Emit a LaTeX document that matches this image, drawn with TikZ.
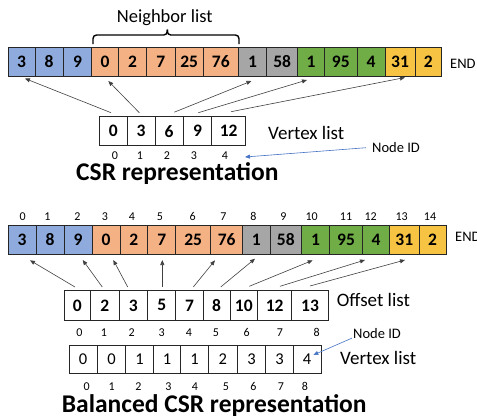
\documentclass[tikz,border=0pt]{standalone}
\usepackage{fontspec}
\setmainfont{Carlito}
\usetikzlibrary{arrows.meta}
\definecolor{cblue}{HTML}{8FAADC}
\definecolor{corange}{HTML}{F4B183}
\definecolor{cgray}{HTML}{A6A6A6}
\definecolor{cgreen}{HTML}{70AD47}
\definecolor{cyellow}{HTML}{F6C343}
\definecolor{linkblue}{HTML}{4472C4}
\begin{document}
\begin{tikzpicture}[x=1pt,y=-1pt,
 cell/.style={draw=black!85, line width=0.8pt, inner sep=0pt, outer sep=0pt, anchor=west, font=\fontsize{17.5}{19}\selectfont\bfseries},
 vcell/.style={cell, font=\fontsize{16.5}{18}\selectfont},
 toprow/.style={cell, minimum height=28.3pt},
 botrow/.style={cell, minimum height=29.3pt},
 csrrow/.style={cell, minimum height=29pt},
 offrow/.style={cell, minimum height=29.3pt},
 vtxrow/.style={vcell, minimum height=28.3pt},
 idx/.style={anchor=base, inner sep=0pt, text depth=0pt, font=\fontsize{12}{13}\selectfont},
 lbl/.style={anchor=base west, inner sep=0pt, font=\fontsize{19}{22}\selectfont},
 nidl/.style={anchor=base west, inner sep=0pt, font=\fontsize{14.5}{17}\selectfont},
 ttl/.style={anchor=base west, inner sep=0pt, text height=16.5pt, text depth=4.5pt, font=\fontsize{25.5}{28}\selectfont\bfseries},
 ptr/.style={draw=black!75, line width=0.6pt, -{Triangle[length=5pt,width=4pt]}},
 idptr/.style={draw=linkblue, line width=0.6pt, -{Triangle[length=5pt,width=4pt]}},
 bracel/.style={draw=black, line width=1.4pt, rounded corners=3.5pt},
]
\useasboundingbox (0,0) rectangle (477,418);

% ---------- CSR: neighbor list ----------
\node[lbl, font=\fontsize{18.5}{21}\selectfont] (nbl) at (116.7,22.7) {Neighbor list};
\draw[bracel] (93,44) -- (93,35) -- (167.3,35) -- (167.3,29.5);
\draw[bracel] (239,44) -- (239,35) -- (167.3,35) -- (167.3,29.5);

\node[toprow, fill=cblue,   minimum width=26.7pt] (a0)  at (8.3,61.85)   {3};
\node[toprow, fill=cblue,   minimum width=28.3pt] (a1)  at (35,61.85)    {8};
\node[toprow, fill=cblue,   minimum width=28.4pt] (a2)  at (63.3,61.85)  {9};
\node[toprow, fill=corange, minimum width=26.6pt] (a3)  at (91.7,61.85)  {0};
\node[toprow, fill=corange, minimum width=28.4pt] (a4)  at (118.3,61.85) {2};
\node[toprow, fill=corange, minimum width=28.3pt] (a5)  at (146.7,61.85) {7};
\node[toprow, fill=corange, minimum width=28.3pt] (a6)  at (175,61.85)   {25};
\node[toprow, fill=corange, minimum width=35pt]   (a7)  at (203.3,61.85) {76};
\node[toprow, fill=cgray,   minimum width=28.4pt] (a8)  at (238.3,61.85) {1};
\node[toprow, fill=cgray,   minimum width=31pt]   (a9)  at (266.7,61.85) {58};
\node[toprow, fill=cgreen,  minimum width=26.6pt] (a10) at (297.7,61.85) {1};
\node[toprow, fill=cgreen,  minimum width=33pt]   (a11) at (324.3,61.85) {95};
\node[toprow, fill=cgreen,  minimum width=27.7pt] (a12) at (357.3,61.85) {4};
\node[toprow, fill=cyellow, minimum width=30pt]   (a13) at (385,61.85)   {31};
\node[toprow, fill=cyellow, minimum width=26.7pt] (a14) at (415,61.85)   {2};
\node[nidl] (end1) at (450,68.3) {END};

% ---------- CSR: vertex list ----------
\node[csrrow, minimum width=28pt]   (v0) at (99.3,131.2)  {0};
\node[csrrow, minimum width=27.7pt] (v1) at (127.3,131.2) {3};
\node[csrrow, minimum width=28.3pt] (v2) at (155,131.2)   {6};
\node[csrrow, minimum width=28.4pt] (v3) at (183.3,131.2) {9};
\node[csrrow, minimum width=34pt]   (v4) at (211.7,131.2) {12};
\node[lbl] (vl1) at (268,139.3) {Vertex list};
\foreach \x [count=\i from 0] in {115,140,167,194,225}
  \node[idx] (q\i) at (\x,159.8) {\i};
\node[nidl] (nid1) at (372,152.7) {Node ID};
\coordinate (tip1) at (245,157);
\draw[idptr] ([xshift=-6pt]nid1.west) -- (tip1);

\draw[ptr] ([xshift=-2.3pt,yshift=4pt]v0.north) -- ([xshift=3.3pt,yshift=-2.5pt]a0.south);
\draw[ptr] ([xshift=-1.85pt,yshift=4pt]v1.north) -- ([xshift=3.3pt,yshift=-5pt]a3.south);
\draw[ptr] ([xshift=5.15pt,yshift=4.5pt]v2.north) -- ([xshift=-1pt,yshift=-5pt]a8.south);
\draw[ptr] ([xshift=0.8pt,yshift=4pt]v3.north) -- ([xshift=-4pt,yshift=-4pt]a10.south);
\draw[ptr] ([xshift=2.3pt,yshift=5pt]v4.north) -- ([xshift=5pt,yshift=-1.5pt]a13.south);

\node[ttl] (t1) at (76,180.3) {CSR representation};

% ---------- Balanced CSR: neighbor list ----------
\foreach \x [count=\i from 0] in {22.7,47.3,77.3,105,132,160,192.7,223.3,253.3,283.3,311.7,346,370.7,401.7,430}
  \node[idx] (p\i) at (\x,220) {\i};
\node[botrow, fill=cblue,   minimum width=27.7pt] (b0)  at (8.3,239.65)   {3};
\node[botrow, fill=cblue,   minimum width=28pt]   (b1)  at (36,239.65)    {8};
\node[botrow, fill=cblue,   minimum width=28.3pt] (b2)  at (64,239.65)    {9};
\node[botrow, fill=corange, minimum width=27.7pt] (b3)  at (92.3,239.65)  {0};
\node[botrow, fill=corange, minimum width=27.7pt] (b4)  at (120,239.65)   {2};
\node[botrow, fill=corange, minimum width=28pt]   (b5)  at (147.7,239.65) {7};
\node[botrow, fill=corange, minimum width=35pt]   (b6)  at (175.7,239.65) {25};
\node[botrow, fill=corange, minimum width=32pt]   (b7)  at (210.7,239.65) {76};
\node[botrow, fill=cgray,   minimum width=27.3pt] (b8)  at (242.7,239.65) {1};
\node[botrow, fill=cgray,   minimum width=31.7pt] (b9)  at (270,239.65)   {58};
\node[botrow, fill=cgreen,  minimum width=27.6pt] (b10) at (301.7,239.65) {1};
\node[botrow, fill=cgreen,  minimum width=33.4pt] (b11) at (329.3,239.65) {95};
\node[botrow, fill=cgreen,  minimum width=26.6pt] (b12) at (362.7,239.65) {4};
\node[botrow, fill=cyellow, minimum width=30pt]   (b13) at (389.3,239.65) {31};
\node[botrow, fill=cyellow, minimum width=26.7pt] (b14) at (419.3,239.65) {2};
\node[nidl] (end2) at (455,241.7) {END};

% ---------- Balanced CSR: offset list ----------
\node[offrow, minimum width=26.7pt] (o0) at (64,305.35)    {0};
\node[offrow, minimum width=28.3pt] (o1) at (90.7,305.35)  {2};
\node[offrow, minimum width=28.7pt] (o2) at (119,305.35)   {3};
\node[offrow, minimum width=28pt]   (o3) at (147.7,305.35) {5};
\node[offrow, minimum width=27.6pt] (o4) at (175.7,305.35) {7};
\node[offrow, minimum width=26.7pt] (o5) at (203.3,305.35) {8};
\node[offrow, minimum width=27.7pt] (o6) at (230,305.35)   {10};
\node[offrow, minimum width=34pt]   (o7) at (257.7,305.35) {12};
\node[offrow, minimum width=36.6pt] (o8) at (291.7,305.35) {13};
\node[lbl] (ofl) at (336.7,306.7) {Offset list};
\foreach \x [count=\i from 0] in {79.3,104,131.7,161.7,189,216,246.7,280,316.7}
  \node[idx] (r\i) at (\x,336.7) {\i};

\draw[ptr] ([xshift=-2.35pt,yshift=3.7pt]o0.north) -- ([xshift=7.85pt,yshift=-6pt]b0.south);
\draw[ptr] ([xshift=-2.55pt,yshift=3.7pt]o1.north) -- ([xshift=4.55pt,yshift=-5.7pt]b2.south);
\draw[ptr] ([xshift=-5.65pt,yshift=3.7pt]o2.north) -- ([xshift=7.15pt,yshift=-5.7pt]b3.south);
\draw[ptr] ([xshift=0.6pt,yshift=3.7pt]o3.north) -- ([xshift=0.6pt,yshift=-5.7pt]b5.south);
\draw[ptr] ([xshift=3.8pt,yshift=3.7pt]o4.north) -- ([xshift=-11.7pt,yshift=-6pt]b7.south);
\draw[ptr] ([xshift=4.05pt,yshift=3.7pt]o5.north) -- ([xshift=-1.35pt,yshift=-4.4pt]b8.south);
\draw[ptr] ([xshift=5.45pt,yshift=4.4pt]o6.north) -- ([xshift=-2.8pt,yshift=-6pt]b10.south);
\draw[ptr] ([xshift=5.3pt,yshift=4.4pt]o7.north) -- ([xshift=-11pt,yshift=-5.7pt]b12.south);
\draw[ptr] ([xshift=0pt,yshift=4.7pt]o8.north) -- ([xshift=0.7pt,yshift=-5.7pt]b13.south);

% ---------- Balanced CSR: vertex list ----------
\node[nidl] (nid2) at (353,338.3) {Node ID};
\node[vtxrow, minimum width=28.3pt] (w0) at (69,359.15)    {0};
\node[vtxrow, minimum width=28.4pt] (w1) at (97.3,359.15)  {0};
\node[vtxrow, minimum width=27.6pt] (w2) at (125.7,359.15) {1};
\node[vtxrow, minimum width=27.4pt] (w3) at (153.3,359.15) {1};
\node[vtxrow, minimum width=27.6pt] (w4) at (180.7,359.15) {1};
\node[vtxrow, minimum width=29pt]   (w5) at (208.3,359.15) {2};
\node[vtxrow, minimum width=28.4pt] (w6) at (237.3,359.15) {3};
\node[vtxrow, minimum width=27.6pt] (w7) at (265.7,359.15) {3};
\node[vtxrow, minimum width=27.7pt] (w8) at (293.3,359.15) {4};
\node[lbl] (vl2) at (340,364) {Vertex list};
\coordinate (tip2) at (313.3,355);
\draw[idptr] ([xshift=-1pt,yshift=0.5pt]nid2.south west) -- (tip2);
\foreach \x [count=\i from 0] in {86.7,111.7,138.3,168.3,195,226,253.3,281,305}
  \node[idx] (s\i) at (\x,390) {\i};

\node[ttl] (t2) at (61.7,412.5) {Balanced CSR representation};
\end{tikzpicture}
\end{document}
